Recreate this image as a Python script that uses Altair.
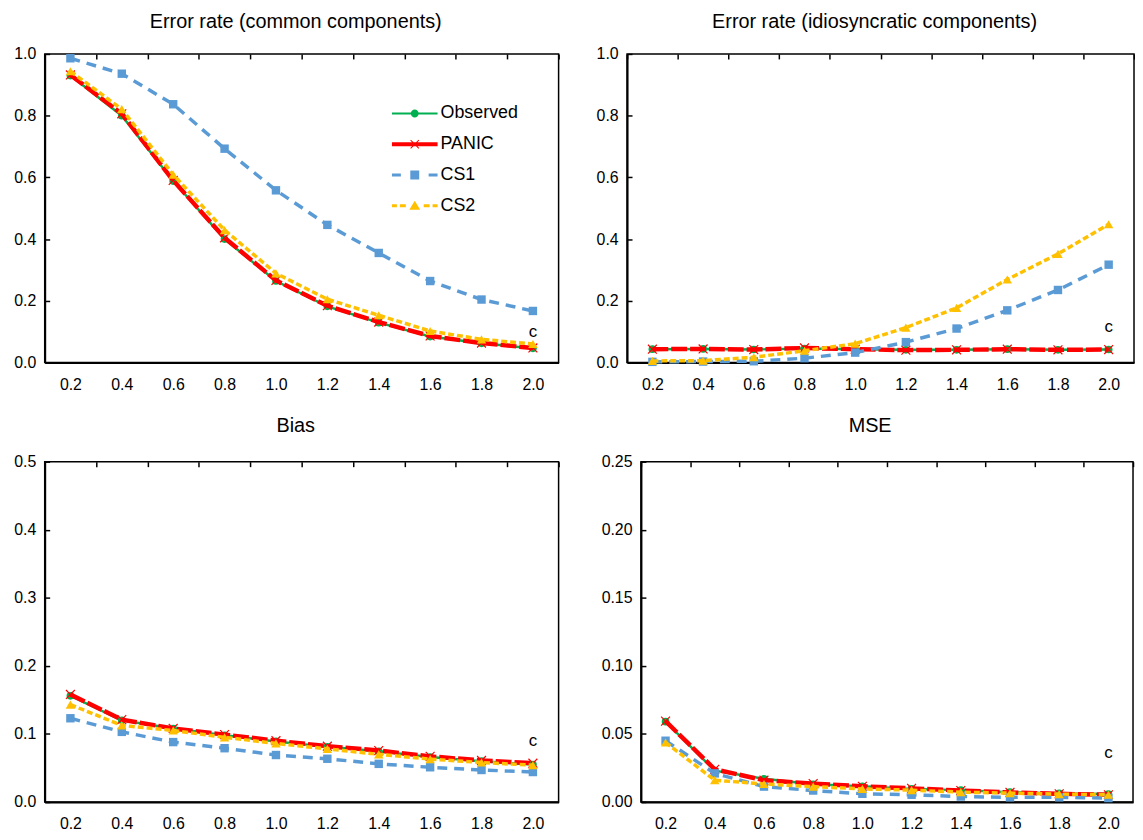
import altair as alt
import pandas as pd

FONT = "Liberation Sans"

x_labels = ["0.2", "0.4", "0.6", "0.8", "1.0", "1.2", "1.4", "1.6", "1.8", "2.0"]
series_names = ["Observed", "PANIC", "CS1", "CS2"]
series_colors = ["#00B050", "#FF0000", "#5B9BD5", "#FFC000"]

# Error rate (common components)
common_obs = [0.930, 0.800, 0.588, 0.400, 0.264, 0.182, 0.129, 0.084, 0.062, 0.046]
common_panic = [0.932, 0.806, 0.590, 0.404, 0.266, 0.184, 0.131, 0.086, 0.063, 0.047]
common_cs1 = [0.986, 0.936, 0.837, 0.693, 0.558, 0.446, 0.355, 0.264, 0.204, 0.167]
common_cs2 = [0.944, 0.821, 0.609, 0.429, 0.289, 0.205, 0.153, 0.102, 0.075, 0.060]

# Error rate (idiosyncratic components)
idio_obs = [0.043, 0.044, 0.042, 0.045, 0.043, 0.041, 0.041, 0.043, 0.041, 0.042]
idio_panic = [0.043, 0.044, 0.042, 0.047, 0.043, 0.040, 0.041, 0.043, 0.041, 0.042]
idio_cs1 = [0.002, 0.003, 0.004, 0.014, 0.032, 0.066, 0.110, 0.169, 0.235, 0.317]
idio_cs2 = [0.005, 0.006, 0.017, 0.038, 0.061, 0.113, 0.177, 0.269, 0.352, 0.448]

# Bias
bias_obs = [0.156, 0.120, 0.108, 0.098, 0.089, 0.081, 0.0745, 0.066, 0.060, 0.055]
bias_panic = [0.158, 0.121, 0.108, 0.099, 0.090, 0.082, 0.0755, 0.067, 0.061, 0.057]
bias_cs1 = [0.123, 0.103, 0.088, 0.079, 0.069, 0.0635, 0.056, 0.051, 0.047, 0.044]
bias_cs2 = [0.143, 0.1125, 0.105, 0.095, 0.086, 0.078, 0.070, 0.063, 0.058, 0.054]

# MSE
mse_obs = [0.059, 0.023, 0.017, 0.013, 0.0115, 0.0096, 0.0087, 0.0072, 0.0063, 0.0058]
mse_panic = [0.0594, 0.024, 0.016, 0.0135, 0.0115, 0.010, 0.0084, 0.007, 0.006, 0.0053]
mse_cs1 = [0.045, 0.021, 0.0113, 0.0084, 0.006, 0.0053, 0.004, 0.0034, 0.0034, 0.0029]
mse_cs2 = [0.0437, 0.016, 0.0132, 0.0113, 0.0096, 0.0087, 0.0072, 0.0065, 0.0058, 0.0053]

panel_titles = ["Error rate (common components)", "Error rate (idiosyncratic components)", "Bias", "MSE"]
y_ticks_rate = [0.0, 0.2, 0.4, 0.6, 0.8, 1.0]
y_ticks_bias = [0.0, 0.1, 0.2, 0.3, 0.4, 0.5]
y_ticks_mse = [0.0, 0.05, 0.10, 0.15, 0.20, 0.25]
c_label_text = "c"
c_label_y = [0.10, 0.115, 0.09, 0.036]

# legend symbols: line + marker, drawn as filled paths
legend_paths = [
    "M-2.3,-0.1H2.3V0.1H-2.3Z M0.4,0A0.4,0.4 0 1,1 -0.4,0A0.4,0.4 0 1,1 0.4,0Z",
    "M-2.3,-0.2H2.3V0.2H-2.3Z M-0.45,-0.38L-0.38,-0.45L0.45,0.38L0.38,0.45Z M-0.45,0.38L0.38,-0.45L0.45,-0.38L-0.38,0.45Z",
    "M-2.3,-0.15H-1.4V0.15H-2.3Z M1.4,-0.15H2.3V0.15H1.4Z M-0.45,-0.45H0.45V0.45H-0.45Z",
    "M-2.3,-0.15H-1.8V0.15H-2.3Z M-1.5,-0.15H-0.9V0.15H-1.5Z M0.9,-0.15H1.5V0.15H0.9Z M1.8,-0.15H2.3V0.15H1.8Z M0,-0.5L0.55,0.4H-0.55Z",
]

line_styles = [
    dict(strokeWidth=2.5),
    dict(strokeWidth=4.5, strokeDash=[16, 3]),
    dict(strokeWidth=3.5, strokeDash=[10, 7]),
    dict(strokeWidth=3.5, strokeDash=[6, 3]),
]
point_styles = [
    dict(shape="circle", filled=True, size=60),
    dict(shape="M-1,-1L1,1M-1,1L1,-1", filled=False, size=80, strokeWidth=1.2),
    dict(shape="square", filled=True, size=72),
    dict(shape="triangle-up", filled=True, size=90),
]


def long_df(arrs):
    rows = []
    for name, vals in zip(series_names, arrs):
        for x, v in zip(x_labels, vals):
            rows.append({"x": x, "series": name, "value": v})
    return pd.DataFrame(rows)


def panel(arrs, title, yticks, fmt, width, height, c_y, y_extent, title_offset, title_dx, legend=False):
    df = long_df(arrs)
    xenc = alt.X(
        "x:N",
        sort=x_labels,
        scale=alt.Scale(type="band", domain=x_labels, paddingInner=0, paddingOuter=0),
        axis=alt.Axis(title=None, labelAngle=0, tickBand="extent", labelPadding=14,
                      minExtent=32, maxExtent=32),
    )
    yenc = alt.Y(
        "value:Q",
        scale=alt.Scale(domain=[yticks[0], yticks[-1]], nice=False, zero=True),
        axis=alt.Axis(title=None, values=yticks, format=fmt, labelPadding=9,
                      minExtent=y_extent, maxExtent=y_extent),
    )
    base = alt.Chart(df).encode(x=xenc, y=yenc)
    layers = []
    for name, col, ls, ps in zip(series_names, series_colors, line_styles, point_styles):
        sub = base.transform_filter(alt.datum.series == name)
        layers.append(sub.mark_line(color=col, **ls))
        layers.append(sub.mark_point(color=col, opacity=1, **ps))
    cdf = pd.DataFrame({"x": [x_labels[-1]], "value": [c_y], "t": [c_label_text]})
    layers.append(
        alt.Chart(cdf).mark_text(font=FONT, fontSize=17, color="#000", baseline="middle")
        .encode(x=xenc, y=yenc, text="t:N")
    )
    if legend:
        leg = alt.Legend(orient="none", legendX=363, legendY=50, title=None,
                         labelFont=FONT, labelFontSize=18, labelColor="#000",
                         symbolSize=400, symbolStrokeWidth=0, symbolOpacity=1,
                         labelOffset=16, rowPadding=12, padding=0)
        layers.append(
            base.transform_filter("datum.value < -1")
            .mark_point(filled=True, opacity=1, size=400)
            .encode(
                color=alt.Color("series:N", scale=alt.Scale(domain=series_names, range=series_colors), legend=leg),
                shape=alt.Shape("series:N", scale=alt.Scale(domain=series_names, range=legend_paths), legend=leg),
            )
        )
    return alt.layer(*layers).properties(
        width=width, height=height,
        title=alt.TitleParams(title, offset=title_offset, dx=title_dx),
    )


p1 = panel([common_obs, common_panic, common_cs1, common_cs2], panel_titles[0], y_ticks_rate, ".1f",
           518, 311, c_label_y[0], 32, 14, -6, legend=True)
p2 = panel([idio_obs, idio_panic, idio_cs1, idio_cs2], panel_titles[1], y_ticks_rate, ".1f",
           511, 311, c_label_y[1], 32, 14, -6)
p3 = panel([bias_obs, bias_panic, bias_cs1, bias_cs2], panel_titles[2], y_ticks_bias, ".1f",
           518, 343, c_label_y[2], 32, 18, -6)
p4 = panel([mse_obs, mse_panic, mse_cs1, mse_cs2], panel_titles[3], y_ticks_mse, ".2f",
           496, 343, c_label_y[3], 44, 18, -17)

row1 = alt.hconcat(p1, p2, spacing=35)
row2 = alt.hconcat(p3, p4, spacing=37)

chart = (
    alt.vconcat(row1, row2, spacing=20)
    .properties(padding={"left": 4, "top": 0, "right": 0, "bottom": 0})
    .configure_view(stroke="#000", strokeWidth=1.5)
    .configure_axis(
        labelFont=FONT, labelFontSize=16, labelColor="#000",
        domainColor="#000", domainWidth=2,
        ticks=False, grid=True, gridColor="#000", gridWidth=1.5, gridDash=[5, 3000], gridOpacity=1,
    )
    .configure_title(font=FONT, fontSize=20, fontWeight="normal", color="#000", anchor="middle")
)

chart.save("out.html", embed_options={"renderer": "svg", "actions": False})
